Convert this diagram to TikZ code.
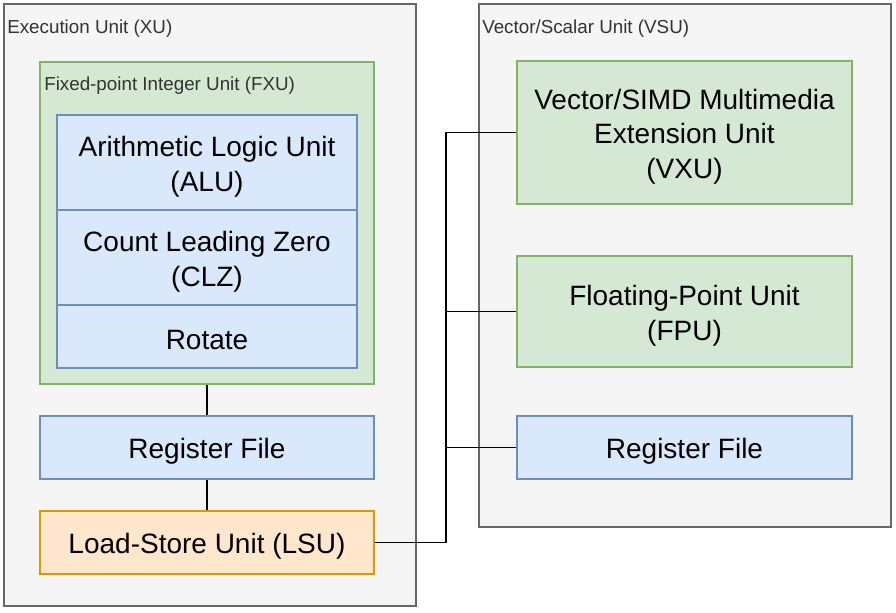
\documentclass[tikz,border=0pt]{standalone}
\usepackage{fontspec}
\setmainfont{Liberation Sans}
\usetikzlibrary{fit}
\definecolor{contfill}{HTML}{F5F5F5}
\definecolor{contdraw}{HTML}{666666}
\definecolor{conttext}{HTML}{333333}
\definecolor{gfill}{HTML}{D5E8D4}
\definecolor{gdraw}{HTML}{82B366}
\definecolor{bfill}{HTML}{DAE8FC}
\definecolor{bdraw}{HTML}{6C8EBF}
\definecolor{ofill}{HTML}{FFE6CC}
\definecolor{odraw}{HTML}{D79B00}
\tikzset{
  box/.style={rectangle, inner sep=0pt, line width=0.85pt},
  txt/.style={align=center, inner sep=0pt, yshift=-3pt, text=black, font=\fontsize{21}{26}\selectfont},
  contbox/.style={box, fill=contfill, draw=contdraw},
  greenbox/.style={box, fill=gfill, draw=gdraw},
  bluebox/.style={box, fill=bfill, draw=bdraw},
  orangebox/.style={box, fill=ofill, draw=odraw},
  lbl/.style={anchor=west, inner sep=0pt, yshift=-2pt, text=conttext, font=\fontsize{14.1}{17}\selectfont},
  wire/.style={draw=black, line width=0.85pt}
}
\begin{document}
\begin{tikzpicture}[x=0.75pt, y=-0.75pt]
\useasboundingbox (0,0) rectangle (896,613);
% containers
\node[contbox, fit={(4,4)(416,606)}] (xu) {};
\node[contbox, fit={(479,4)(891,527)}] (vsu) {};
\node[lbl] (xulbl) at (7,26) {Execution Unit (XU)};
\node[lbl] (vsulbl) at (482,26) {Vector/Scalar Unit (VSU)};
% FXU
\node[greenbox, fit={(40,62)(374,384)}] (fxu) {};
\node[lbl] (fxulbl) at (44,83) {Fixed-point Integer Unit (FXU)};
\node[bluebox, fit={(57,115)(357,210)}, label={[txt]center:Arithmetic Logic Unit\\(ALU)}] (alu) {};
\node[bluebox, fit={(57,210)(357,305)}, label={[txt]center:Count Leading Zero\\(CLZ)}] (clz) {};
\node[bluebox, fit={(57,305)(357,368)}, label={[txt]center:Rotate}] (rot) {};
% XU lower
\node[bluebox, fit={(40,416)(374,479)}, label={[txt]center:Register File}] (rfx) {};
\node[orangebox, fit={(40,511)(374,574)}, label={[txt]center:Load-Store Unit (LSU)}] (lsu) {};
% VSU
\node[greenbox, fit={(517,61)(852,204)}, label={[txt]center:Vector/SIMD Multimedia\\Extension Unit\\(VXU)}] (vxu) {};
\node[greenbox, fit={(517,256)(852,367)}, label={[txt]center:Floating-Point Unit\\(FPU)}] (fpu) {};
\node[bluebox, fit={(517,416)(852,479)}, label={[txt]center:Register File}] (rfv) {};
% connectors
\coordinate (busx) at (446,0);
\draw[wire] (fxu.south) -- (rfx.north);
\draw[wire] (rfx.south) -- (lsu.north);
\draw[wire] (lsu.east) -| (busx |- vxu.west) -- (vxu.west);
\draw[wire] (lsu.east) -| (busx |- fpu.west) -- (fpu.west);
\draw[wire] (lsu.east) -| (busx |- rfv.west) -- (rfv.west);
\end{tikzpicture}
\end{document}
